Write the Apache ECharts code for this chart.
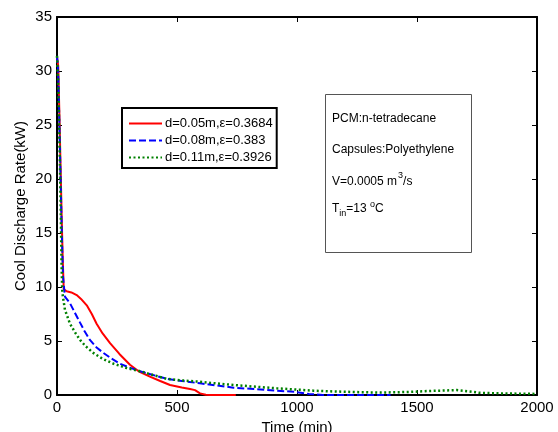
<!DOCTYPE html>
<html>
<head>
<meta charset="utf-8">
<script src="https://cdn.jsdelivr.net/npm/echarts@6/dist/echarts.min.js"></script>
<style>html,body{margin:0;padding:0;background:#fff}#c{width:558px;height:432px}</style>
</head>
<body>
<div id="c"></div>
<script>
var xTicks = [0, 500, 1000, 1500, 2000];
var yTicks = [0, 5, 10, 15, 20, 25, 30, 35];
var seriesNames = ['d=0.05m,\u03b5=0.3684', 'd=0.08m,\u03b5=0.383', 'd=0.11m,\u03b5=0.3926'];

var redT = [0,5,10,15,20,24,28,40,60,82,100,124,145,165,190,221,260,304,340,387,430,471,520,554,575,596,620,640,700,745];
var redV = [31.3,30.5,26,21,16,12.5,9.8,9.6,9.5,9.25,8.9,8.3,7.5,6.6,5.7,4.8,3.8,2.8,2.2,1.7,1.3,0.93,0.7,0.55,0.45,0.15,0.03,0,0,0];

var blueT = [0,5,10,15,20,25,33,54,75,96,115,137,165,193,225,262,300,346,400,457,520,596,660,735,820,915,990,1050,1108,1200,1300,1390];
var blueV = [31.4,30,25,20,15,11,9.1,8.5,7.6,6.7,5.9,5.1,4.4,3.9,3.4,2.9,2.55,2.2,1.85,1.5,1.3,1.08,0.9,0.68,0.55,0.4,0.3,0.1,0,0,0,0];

var greenT = [0,5,10,15,19,22,33,54,75,96,120,151,190,235,290,346,400,457,520,596,660,735,820,915,1000,1068,1150,1250,1346,1420,1483,1560,1620,1665,1720,1762,1850,1930,2000];
var greenV = [31.4,29,24,18,12,9.5,7.9,6.6,5.8,5.1,4.5,3.9,3.35,2.9,2.5,2.2,1.85,1.5,1.35,1.23,1.08,0.93,0.78,0.62,0.5,0.4,0.33,0.27,0.22,0.26,0.3,0.38,0.42,0.46,0.33,0.2,0.15,0.12,0.1];

function pairs(t, v) { return t.map(function (x, i) { return [x, v[i]]; }); }

var FONT = 'Liberation Sans, Arial, sans-serif';
var chart = echarts.init(document.getElementById('c'), null, {renderer: 'canvas'});

var axisCommon = {
  axisLine: {show: true, onZero: false, lineStyle: {color: '#000', width: 2}},
  axisTick: {show: true, inside: true, length: 5, lineStyle: {color: '#000', width: 1}},
  splitLine: {show: false}
};
function plain(v) { return String(v); }

chart.setOption({
  animation: false,
  backgroundColor: '#fff',
  grid: {left: 57, right: 21, top: 17, bottom: 37, containLabel: false, outerBoundsMode: 'none'},
  xAxis: [
    Object.assign({}, axisCommon, {
      type: 'value', min: xTicks[0], max: xTicks[xTicks.length - 1], interval: 500, position: 'bottom',
      name: 'Time (min)', nameLocation: 'middle', nameGap: 23,
      nameTextStyle: {color: '#000', fontSize: 15, fontFamily: FONT},
      axisLabel: {color: '#000', fontSize: 15, fontFamily: FONT, margin: 5, formatter: plain}
    }),
    Object.assign({}, axisCommon, {
      type: 'value', min: xTicks[0], max: xTicks[xTicks.length - 1], interval: 500, position: 'top',
      axisLabel: {show: false}
    })
  ],
  yAxis: [
    Object.assign({}, axisCommon, {
      type: 'value', min: yTicks[0], max: yTicks[yTicks.length - 1], interval: 5, position: 'left',
      name: 'Cool Discharge Rate(kW)', nameLocation: 'middle', nameGap: 29, nameMoveOverlap: false,
      nameTextStyle: {color: '#000', fontSize: 15, fontFamily: FONT},
      axisLabel: {color: '#000', fontSize: 15, fontFamily: FONT, margin: 5, formatter: plain}
    }),
    Object.assign({}, axisCommon, {
      type: 'value', min: yTicks[0], max: yTicks[yTicks.length - 1], interval: 5, position: 'right',
      axisLabel: {show: false}
    })
  ],
  legend: {
    orient: 'vertical', left: 122, top: 108,
    borderColor: '#000', borderWidth: 2, padding: [9, 4, 4, 6],
    itemWidth: 33, itemHeight: 10, itemGap: 4,
    itemStyle: {opacity: 0},
    textStyle: {color: '#000', fontSize: 13, fontFamily: FONT, padding: [0, 0, 0, -2]},
    data: seriesNames
  },
  series: [
    {name: seriesNames[0], type: 'line', data: pairs(redT, redV), showSymbol: false, symbol: 'none', smooth: false,
     lineStyle: {color: '#ff0000', width: 2, type: 'solid'}, itemStyle: {color: '#ff0000'}},
    {name: seriesNames[1], type: 'line', data: pairs(blueT, blueV), showSymbol: false, symbol: 'none',
     lineStyle: {color: '#0000ff', width: 2, type: [7, 3]}, itemStyle: {color: '#0000ff'}},
    {name: seriesNames[2], type: 'line', data: pairs(greenT, greenV), showSymbol: false, symbol: 'none',
     lineStyle: {color: '#008000', width: 2.5, type: [2, 2.5]}, itemStyle: {color: '#008000'}}
  ],
  graphic: [
    {type: 'rect', left: 325, top: 94, shape: {width: 146, height: 158},
     style: {fill: '#fff', stroke: '#555', lineWidth: 1}, z: 10},
    {type: 'text', left: 332, top: 113, z: 11, style: {text: 'PCM:n-tetradecane', fill: '#000', font: '12px ' + FONT}},
    {type: 'text', left: 332, top: 144, z: 11, style: {text: 'Capsules:Polyethylene', fill: '#000', font: '12px ' + FONT}},
    {type: 'text', left: 332, top: 171, z: 11, style: {
      text: '{a|V=0.0005 m}{p|3}{a|/s}', fill: '#000',
      rich: {a: {fontSize: 12, fontFamily: FONT, lineHeight: 17, verticalAlign: 'bottom'},
             p: {fontSize: 9, fontFamily: FONT, lineHeight: 17, verticalAlign: 'top', padding: [0, 0, 0, 1]}}}},
    {type: 'text', left: 332, top: 200, z: 11, style: {
      text: '{a|T}{s|in}{a|=13 }{p|o}{a|C}', fill: '#000',
      rich: {a: {fontSize: 12, fontFamily: FONT, lineHeight: 18, verticalAlign: 'middle'},
             s: {fontSize: 9, fontFamily: FONT, lineHeight: 18, verticalAlign: 'bottom'},
             p: {fontSize: 9, fontFamily: FONT, lineHeight: 18, verticalAlign: 'top'}}}}
  ]
});
</script>
</body>
</html>
